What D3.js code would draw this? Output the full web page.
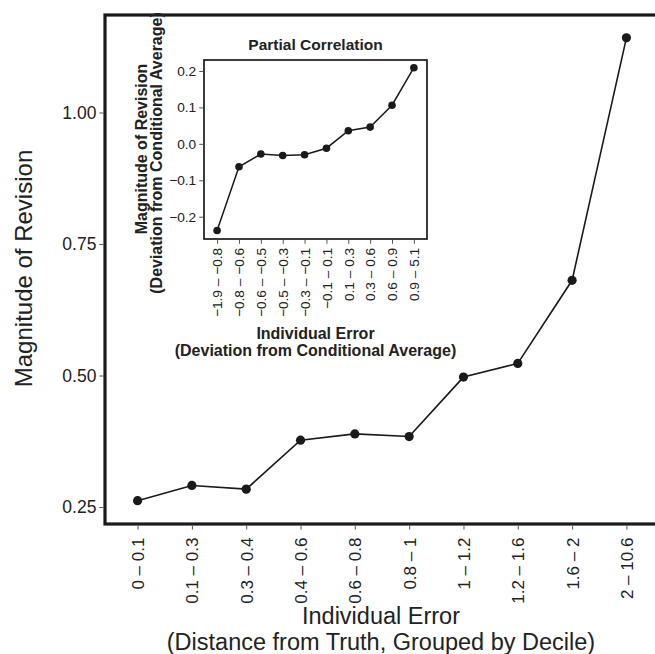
<!DOCTYPE html>
<html><head><meta charset="utf-8">
<script src="https://cdn.jsdelivr.net/npm/d3@7"></script>
<style>body{margin:0;background:#fff}svg{display:block}text{font-family:"Liberation Sans",Arial,Helvetica,sans-serif}</style>
</head><body><svg id="c" width="655" height="654"></svg>
<script>
const mainCategories = ["0 – 0.1","0.1 – 0.3","0.3 – 0.4","0.4 – 0.6","0.6 – 0.8","0.8 – 1","1 – 1.2","1.2 – 1.6","1.6 – 2","2 – 10.6"];
const mainValues = [0.262,0.291,0.284,0.377,0.389,0.384,0.497,0.523,0.681,1.142];
const mainTicks = [0.25,0.50,0.75,1.00];
const insetCategories = ["−1.9 – −0.8","−0.8 – −0.6","−0.6 – −0.5","−0.5 – −0.3","−0.3 – −0.1","−0.1 – 0.1","0.1 – 0.3","0.3 – 0.6","0.6 – 0.9","0.9 – 5.1"];
const insetValues = [-0.238,-0.063,-0.028,-0.032,-0.030,-0.012,0.036,0.046,0.106,0.209];
const insetTicks = [-0.2,-0.1,0.0,0.1,0.2];

const svg = d3.select("#c");
const col = "#1a1a1a";
const txt = "#222";

// main plot
const L=105, R=659, T=15, B=524;
const x = d3.scalePoint().domain(mainCategories).range([L,R]).padding(0.6);
const y = d3.scaleLinear().domain([0.2177,1.1854]).range([B,T]);

svg.append("rect").attr("x",L).attr("y",T).attr("width",R-L).attr("height",B-T)
  .attr("fill","none").attr("stroke",col).attr("stroke-width",3.2);

const yAx = svg.append("g").attr("transform",`translate(${L-1.6},0)`)
  .call(d3.axisLeft(y).tickValues(mainTicks).tickFormat(d3.format(".2f")).tickSize(4).tickPadding(3));
yAx.select(".domain").remove();
yAx.selectAll("line").attr("stroke","#555");
yAx.selectAll("text").attr("font-size",17.5).attr("fill",txt);

const xAx = svg.append("g").attr("transform",`translate(0,${B+1.6})`)
  .call(d3.axisBottom(x).tickSize(4).tickPadding(3));
xAx.select(".domain").remove();
xAx.selectAll("line").attr("stroke","#555");
xAx.selectAll("text").attr("font-size",17).attr("fill",txt)
  .attr("transform","rotate(-90)").attr("text-anchor","end").attr("dx",0).attr("dy","0.35em").attr("x",-12).attr("y",0);

const line = d3.line().x((d,i)=>x(mainCategories[i])).y(d=>y(d));
svg.append("path").datum(mainValues).attr("d",line).attr("fill","none").attr("stroke",col).attr("stroke-width",1.6);
svg.selectAll(".mp").data(mainValues).enter().append("circle")
  .attr("cx",(d,i)=>x(mainCategories[i])).attr("cy",d=>y(d)).attr("r",4.6).attr("fill",col);

svg.append("text").attr("transform",`translate(32,268.5) rotate(-90)`).attr("text-anchor","middle")
  .attr("font-size",24).attr("fill",txt).text("Magnitude of Revision");
svg.append("text").attr("x",381).attr("y",624).attr("text-anchor","middle").attr("font-size",23.5).attr("fill",txt).text("Individual Error");
svg.append("text").attr("x",381).attr("y",650).attr("text-anchor","middle").attr("font-size",23.5).attr("fill",txt).text("(Distance from Truth, Grouped by Decile)");

// inset
const iL=204, iR=427, iT=60, iB=239;
const ix = d3.scalePoint().domain(insetCategories).range([iL,iR]).padding(0.6);
const iy = d3.scaleLinear().domain([-0.2613,0.2302]).range([iB,iT]);
svg.append("rect").attr("x",iL).attr("y",iT).attr("width",iR-iL).attr("height",iB-iT)
  .attr("fill","none").attr("stroke",col).attr("stroke-width",1.7);
const iyAx = svg.append("g").attr("transform",`translate(${iL-0.8},0)`)
  .call(d3.axisLeft(iy).tickValues(insetTicks).tickFormat(d=>d3.format(".1f")(d).replace("-","−")).tickSize(4).tickPadding(3));
iyAx.select(".domain").remove();
iyAx.selectAll("line").attr("stroke","#555");
iyAx.selectAll("text").attr("font-size",13.7).attr("fill",txt);
const ixAx = svg.append("g").attr("transform",`translate(0,${iB+0.8})`)
  .call(d3.axisBottom(ix).tickSize(4).tickPadding(3));
ixAx.select(".domain").remove();
ixAx.selectAll("line").attr("stroke","#555");
ixAx.selectAll("text").attr("font-size",13.7).attr("fill",txt)
  .attr("transform","rotate(-90)").attr("text-anchor","end").attr("dx",0).attr("dy","0.35em").attr("x",-8).attr("y",0);
const iline = d3.line().x((d,i)=>ix(insetCategories[i])).y(d=>iy(d));
svg.append("path").datum(insetValues).attr("d",iline).attr("fill","none").attr("stroke",col).attr("stroke-width",1.5);
svg.selectAll(".ip").data(insetValues).enter().append("circle")
  .attr("cx",(d,i)=>ix(insetCategories[i])).attr("cy",d=>iy(d)).attr("r",3.8).attr("fill",col);

const cx = (iL+iR)/2;
svg.append("text").attr("x",cx).attr("y",50).attr("text-anchor","middle").attr("font-size",15.5).attr("font-weight","bold").attr("fill",txt).text("Partial Correlation");
svg.append("text").attr("transform",`translate(147,149) rotate(-90)`).attr("text-anchor","middle").attr("font-size",16).attr("font-weight","bold").attr("fill",txt).text("Magnitude of Revision");
svg.append("text").attr("transform",`translate(161.5,153) rotate(-90)`).attr("text-anchor","middle").attr("font-size",16).attr("font-weight","bold").attr("fill",txt).text("(Deviation from Conditional Average)");
svg.append("text").attr("x",cx).attr("y",339).attr("text-anchor","middle").attr("font-size",16).attr("font-weight","bold").attr("fill",txt).text("Individual Error");
svg.append("text").attr("x",cx).attr("y",356).attr("text-anchor","middle").attr("font-size",16).attr("font-weight","bold").attr("fill",txt).text("(Deviation from Conditional Average)");
</script></body></html>
